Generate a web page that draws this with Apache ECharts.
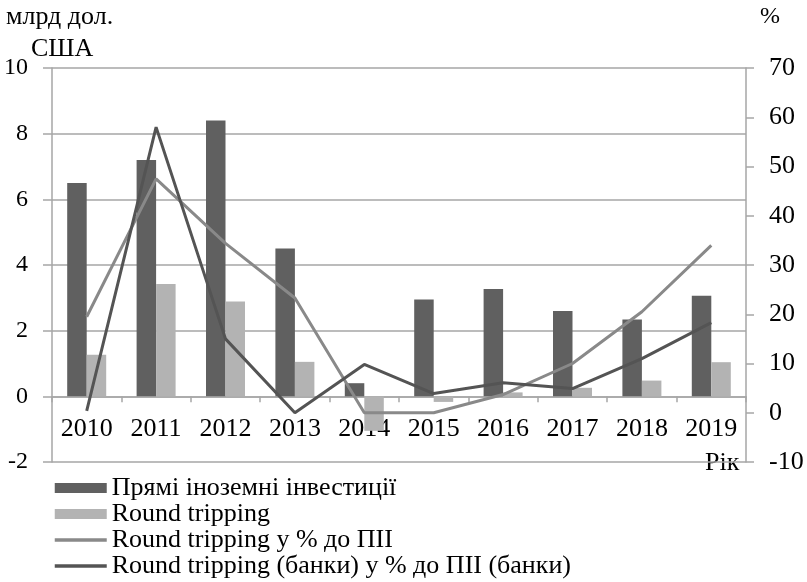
<!DOCTYPE html>
<html>
<head>
<meta charset="utf-8">
<script src="https://cdn.jsdelivr.net/npm/echarts@6/dist/echarts.min.js"></script>
<style>
  html, body { margin: 0; padding: 0; background: #fff; }
  #chart { width: 807px; height: 582px; }
</style>
</head>
<body>
<div id="chart"></div>
<script>
// Years on the category axis
const years = ['2010', '2011', '2012', '2013', '2014', '2015', '2016', '2017', '2018', '2019'];

// Bars, billion USD (left axis)
const fdi = [6.5, 7.2, 8.4, 4.5, 0.4, 2.95, 3.27, 2.6, 2.34, 3.06];
const roundTripping = [1.27, 3.42, 2.89, 1.05, -1.05, -0.17, 0.12, 0.26, 0.48, 1.04];

// Lines, percent (right axis)
const rtShareOfFdi = [19.5, 47.5, 34.4, 23.3, 0, 0, 3.7, 10, 20.5, 34];
const rtBanksShare = [0.4, 58, 15, 0, 9.8, 3.9, 6.1, 4.9, 11, 18.3];

// Axis ticks
const leftTicks = { min: -2, max: 10, step: 2 };
const rightTicks = { min: -10, max: 70, step: 10 };

const names = [
  'Прямі іноземні інвестиції',
  'Round tripping',
  'Round tripping у % до ПІІ',
  'Round tripping (банки) у % до ПІІ (банки)'
];

const FONT = '"Liberation Serif", "Times New Roman", serif';
const GRID = '#a6a6a6';
const LIGHT_LINE = '#898989';
const DARK_LINE = '#545454';

// Plot box
const gridTop = 68, gridBottom = 120, H = 582;
const plotH = H - gridTop - gridBottom;
// Category axis sits at the left axis' zero level
const zeroY = gridTop + plotH * leftTicks.max / (leftTicks.max - leftTicks.min);
const xAxisOffset = -((H - gridBottom) - zeroY);

const chart = echarts.init(document.getElementById('chart'), null, { renderer: 'canvas' });

// Legend line icons without the marker dot
const hiddenMarker = { opacity: 0, color: 'transparent', borderWidth: 0 };

chart.setOption({
  animation: false,
  backgroundColor: '#ffffff',
  textStyle: { fontFamily: FONT, color: '#000' },
  grid: { left: 52, right: 61, top: gridTop, bottom: gridBottom, containLabel: false },
  legend: {
    orient: 'vertical',
    left: 53,
    top: 475,
    padding: 0,
    itemWidth: 52,
    itemHeight: 10,
    itemGap: 0,
    textStyle: { fontFamily: FONT, fontSize: 26, color: '#000', lineHeight: 26 },
    data: [
      { name: names[0], icon: 'rect' },
      { name: names[1], icon: 'rect' },
      { name: names[2], itemStyle: hiddenMarker, lineStyle: { width: 3.5, color: LIGHT_LINE } },
      { name: names[3], itemStyle: hiddenMarker, lineStyle: { width: 3.5, color: DARK_LINE } }
    ]
  },
  xAxis: {
    type: 'category',
    data: years,
    boundaryGap: true,
    position: 'bottom',
    offset: xAxisOffset,
    axisLine: { onZero: false, lineStyle: { color: GRID, width: 1.5 } },
    axisTick: { show: true, length: 6, inside: false, lineStyle: { color: GRID, width: 1.5 } },
    axisLabel: { fontFamily: FONT, fontSize: 26, color: '#000', margin: 20 },
    splitLine: { show: false }
  },
  yAxis: [
    {
      type: 'value',
      position: 'left',
      min: leftTicks.min,
      max: leftTicks.max,
      interval: leftTicks.step,
      axisLine: { show: true, lineStyle: { color: GRID, width: 1.5 } },
      axisTick: { show: true, length: 9, lineStyle: { color: GRID, width: 1.5 } },
      axisLabel: { fontFamily: FONT, fontSize: 24, color: '#000', margin: 24 },
      splitLine: { show: true, lineStyle: { color: GRID, width: 1.5 } }
    },
    {
      type: 'value',
      position: 'right',
      min: rightTicks.min,
      max: rightTicks.max,
      interval: rightTicks.step,
      axisLine: { show: true, lineStyle: { color: GRID, width: 1.5 } },
      axisTick: { show: true, length: 8, lineStyle: { color: GRID, width: 1.5 } },
      axisLabel: { fontFamily: FONT, fontSize: 26, color: '#000', margin: 23, align: 'left' },
      splitLine: { show: false }
    }
  ],
  graphic: [
    { type: 'text', left: 6, top: 4, style: { text: 'млрд дол.', font: '26px ' + FONT, fill: '#000' } },
    { type: 'text', left: 31, top: 36, style: { text: 'США', font: '26px ' + FONT, fill: '#000' } },
    { type: 'text', left: 760, top: 5, style: { text: '%', font: '24px ' + FONT, fill: '#000' } },
    { type: 'text', left: 705, top: 450, style: { text: 'Рік', font: '26px ' + FONT, fill: '#000' } }
  ],
  series: [
    {
      name: names[0], type: 'bar', yAxisIndex: 0, data: fdi,
      barWidth: 19.5, barGap: '0%',
      itemStyle: { color: '#606060' }, z: 2
    },
    {
      name: names[1], type: 'bar', yAxisIndex: 0, data: roundTripping,
      barWidth: 19.5, barGap: '0%',
      itemStyle: { color: '#b3b3b3' }, z: 2
    },
    {
      name: names[2], type: 'line', yAxisIndex: 1, data: rtShareOfFdi,
      symbol: 'none', lineStyle: { color: LIGHT_LINE, width: 3 },
      itemStyle: { color: LIGHT_LINE }, z: 3
    },
    {
      name: names[3], type: 'line', yAxisIndex: 1, data: rtBanksShare,
      symbol: 'none', lineStyle: { color: DARK_LINE, width: 3 },
      itemStyle: { color: DARK_LINE }, z: 4
    }
  ]
});
</script>
</body>
</html>
